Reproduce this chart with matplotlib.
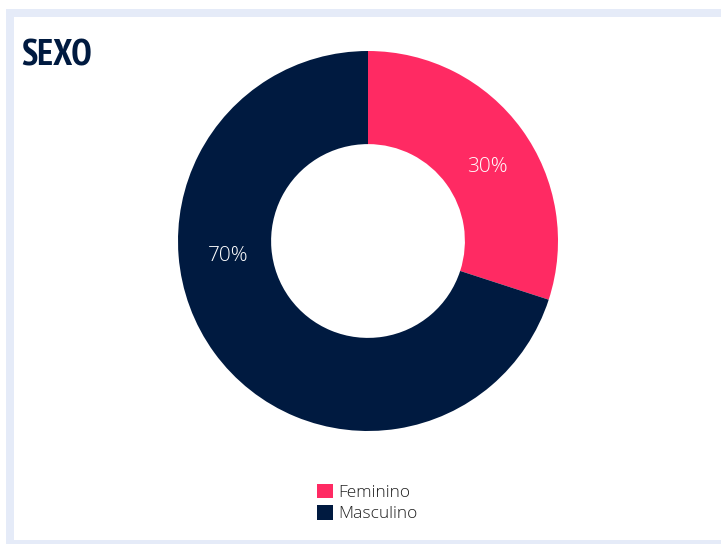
import numpy as np
import matplotlib.pyplot as plt
from matplotlib import font_manager
from matplotlib.patches import Patch, Rectangle

# data
labels = ["Feminino", "Masculino"]
values = [30, 70]
colors = ["#ff2a63", "#001a40"]
title = "SEXO"

# pick the narrowest bold face around for the title
bold = ("bold", 700, "heavy", 800, 900)
fonts = font_manager.fontManager.ttflist
title_fname = None
for pref in ("Narrow", "Roboto Condensed", "Condensed"):
    hits = [f for f in fonts if pref in f.name and f.weight in bold and f.style == "normal"]
    if hits:
        title_fname = hits[0].fname
        break

W, H = 721, 544
fig = plt.figure(figsize=(W / 100, H / 100), dpi=100)
fig.patch.set_facecolor("white")

# light frame around the card (top / left / bottom bands)
frame = "#e5ebf8"
def px_rect(x0, y0, x1, y1):
    fig.patches.append(Rectangle((x0 / W, 1 - y1 / H), (x1 - x0) / W, (y1 - y0) / H,
                                 transform=fig.transFigure, facecolor=frame,
                                 edgecolor="none", zorder=0))
px_rect(6, 9, W, 16.5)
px_rect(6, 9, 14, H)
px_rect(6, 540, W, H)

# donut: center (368, 241) px, outer radius 190 px
cx, cy, R = 368, 241, 190
ax = fig.add_axes([(cx - R) / W, (H - cy - R) / H, 2 * R / W, 2 * R / H])
wedges, texts, autotexts = ax.pie(
    values, colors=colors, startangle=90, counterclock=False,
    radius=1.0, wedgeprops=dict(width=0.49, edgecolor="none"),
    autopct="%d%%", pctdistance=0.745,
    textprops=dict(color="white", fontsize=15, family="Open Sans", fontweight="light"),
)
# label placement angles (deg) as in the original widget
label_angles = [31.75, 186]
for t, a in zip(autotexts, label_angles):
    t.set_position((0.74 * np.cos(np.radians(a)), 0.74 * np.sin(np.radians(a))))
ax.set_xlim(-1, 1)
ax.set_ylim(-1, 1)
ax.set_aspect("equal")
ax.axis("off")

if title_fname:
    fp = font_manager.FontProperties(fname=title_fname, size=26.5)
else:
    fp = font_manager.FontProperties(family="DejaVu Sans", weight="bold", size=22)
fig.text(21 / W, 1 - 56 / H, title, fontproperties=fp, color="#001a40",
         va="center", ha="left")

handles = [Patch(facecolor=c, edgecolor="none") for c in colors]
leg = fig.legend(handles, labels, loc="center", bbox_to_anchor=(367 / W, 1 - 503 / H),
                 frameon=False, handlelength=0.9, handleheight=0.9, handletextpad=0.3,
                 labelspacing=0.25, prop=dict(family="Open Sans", size=12.5, weight="light"))
for t in leg.get_texts():
    t.set_color("#222222")

fig.savefig("out.png", dpi=100)
